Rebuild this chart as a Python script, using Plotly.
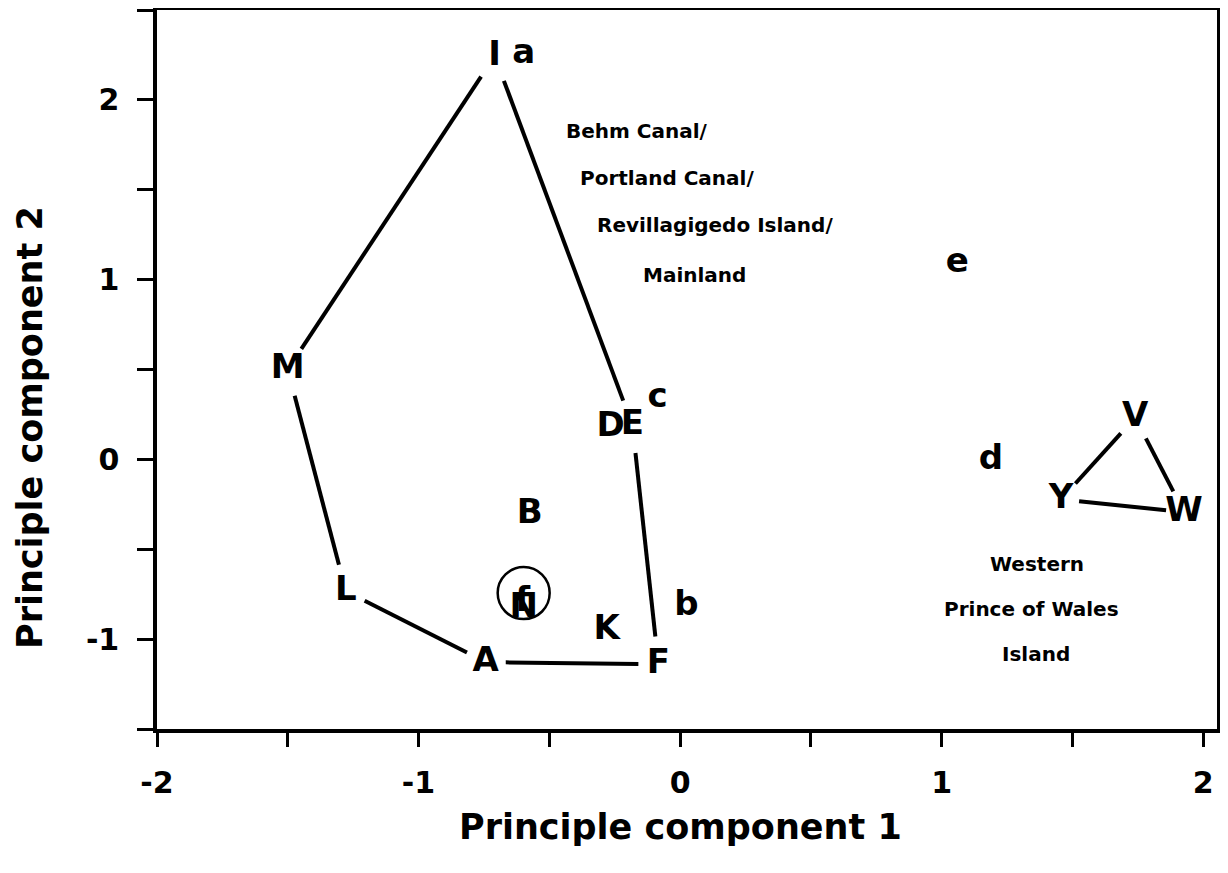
import plotly.graph_objects as go
import numpy as np

# ---- data ----
labels = ["I", "a", "M", "L", "A", "F", "K", "B", "N", "f", "D", "E", "c", "b", "e", "d", "V", "Y", "W"]
pc1 = [-0.709, -0.598, -1.500, -1.278, -0.743, -0.083, -0.281, -0.575, -0.598, -0.602,
       -0.266, -0.182, -0.086, 0.024, 1.060, 1.189, 1.740, 1.457, 1.927]
pc2 = [2.244, 2.250, 0.500, -0.733, -1.128, -1.139, -0.950, -0.306, -0.828, -0.794,
       0.178, 0.189, 0.339, -0.817, 1.089, -0.006, 0.233, -0.222, -0.294]

hull_north = ["M", "I", "E", "F", "A", "L", "M"]
hull_west = ["V", "W", "Y", "V"]

circle_pc1 = [-0.598]
circle_pc2 = [-0.744]

region1_text = ["Behm Canal/", "Portland Canal/", "Revillagigedo Island/", "Mainland"]
region1_x = [-0.442, -0.392, -0.327, -0.151]
region1_y = [1.828, 1.567, 1.306, 1.028]

region2_text = ["Western", "Prince of Wales", "Island"]
region2_x = [1.365, 1.342, 1.361]
region2_y = [-0.583, -0.833, -1.083]

x_ticks = [-2, -1.5, -1, -0.5, 0, 0.5, 1, 1.5, 2]
y_ticks = [-1.5, -1, -0.5, 0, 0.5, 1, 1.5, 2, 2.5]

# ---- layout geometry ----
W, H = 1228, 873
OFF = 8                      # page body margin in the browser
PW, PH = 1060, 719           # plot area size
ML, MT = 157 - OFF, 10 - OFF
MR, MB = W - ML - PW, H - MT - PH
XR = [-2, 2.053]
YR = [-1.5, 2.5]
sx = PW / (XR[1] - XR[0])
sy = PH / (YR[1] - YR[0])

pos = {l: (x, y) for l, x, y in zip(labels, pc1, pc2)}


def segs(order, rx=20.0, ry=28.0):
    xs, ys = [], []
    for p, q in zip(order[:-1], order[1:]):
        x0, y0 = pos[p]
        x1, y1 = pos[q]
        dxp = (x1 - x0) * sx
        dyp = (y1 - y0) * sy
        L = np.hypot(dxp, dyp)
        ux, uy = dxp / L, dyp / L
        g = 1.0 / np.sqrt((ux / rx) ** 2 + (uy / ry) ** 2)
        xs += [x0 + ux * g / sx, x1 - ux * g / sx, None]
        ys += [y0 + uy * g / sy, y1 - uy * g / sy, None]
    return xs, ys


FONT = "DejaVu Sans"
fig = go.Figure()

for order, gap in ((hull_north, (20, 28)), (hull_west, (18, 26))):
    lx, ly = segs(order, *gap)
    fig.add_trace(go.Scatter(x=lx, y=ly, mode="lines",
                             line=dict(color="black", width=4),
                             hoverinfo="skip", showlegend=False))

fig.add_trace(go.Scatter(x=circle_pc1, y=circle_pc2, mode="markers",
                         marker=dict(symbol="circle-open", size=52,
                                     line=dict(color="black", width=2.5), color="black"),
                         showlegend=False, hoverinfo="skip"))

fig.add_trace(go.Scatter(x=pc1, y=pc2, mode="text", text=labels,
                         textposition="middle center",
                         textfont=dict(family=FONT, size=34, color="black", weight="bold"),
                         showlegend=False))

annotations = []
for t, x, y in zip(region1_text, region1_x, region1_y):
    annotations.append(dict(x=x, y=y, xref="x", yref="y", text=t, showarrow=False,
                            xanchor="left", yanchor="middle",
                            font=dict(family=FONT, size=20, color="black", weight="bold")))
for t, x, y in zip(region2_text, region2_x, region2_y):
    annotations.append(dict(x=x, y=y, xref="x", yref="y", text=t, showarrow=False,
                            xanchor="center", yanchor="middle",
                            font=dict(family=FONT, size=20, color="black", weight="bold")))

plot_bottom = MT + PH
annotations.append(dict(x=(680 - OFF - ML) / PW, y=-(827 - OFF - plot_bottom) / PH,
                        xref="paper", yref="paper", text="Principle component 1",
                        showarrow=False, xanchor="center", yanchor="middle",
                        font=dict(family=FONT, size=35, color="black", weight="bold")))
annotations.append(dict(x=(30 - OFF - ML) / PW, y=(plot_bottom - (428 - OFF)) / PH,
                        xref="paper", yref="paper", text="Principle component 2",
                        showarrow=False, xanchor="center", yanchor="middle", textangle=-90,
                        font=dict(family=FONT, size=35, color="black", weight="bold")))


def tick_text(v):
    if float(v).is_integer():
        return str(int(v)).replace("−", "-")
    return ""


fig.update_layout(
    width=W, height=H,
    margin=dict(l=ML, r=MR, t=MT, b=MB, autoexpand=False),
    paper_bgcolor="white", plot_bgcolor="white",
    annotations=annotations,
    xaxis=dict(range=XR, tickvals=x_ticks, ticktext=[tick_text(v) for v in x_ticks],
               automargin=False,
               showgrid=False, zeroline=False, showline=True, mirror=True,
               linecolor="black", linewidth=3.5, ticks="outside", ticklen=14,
               tickwidth=3, tickcolor="black", ticklabelstandoff=10,
               tickfont=dict(family=FONT, size=30, color="black", weight="bold")),
    yaxis=dict(range=YR, tickvals=y_ticks, ticktext=[tick_text(v) for v in y_ticks],
               automargin=False,
               showgrid=False, zeroline=False, showline=True, mirror=True,
               linecolor="black", linewidth=3.5, ticks="outside", ticklen=16,
               tickwidth=3, tickcolor="black", ticklabelstandoff=12,
               tickfont=dict(family=FONT, size=30, color="black", weight="bold")),
)

fig.write_html("out.html")
